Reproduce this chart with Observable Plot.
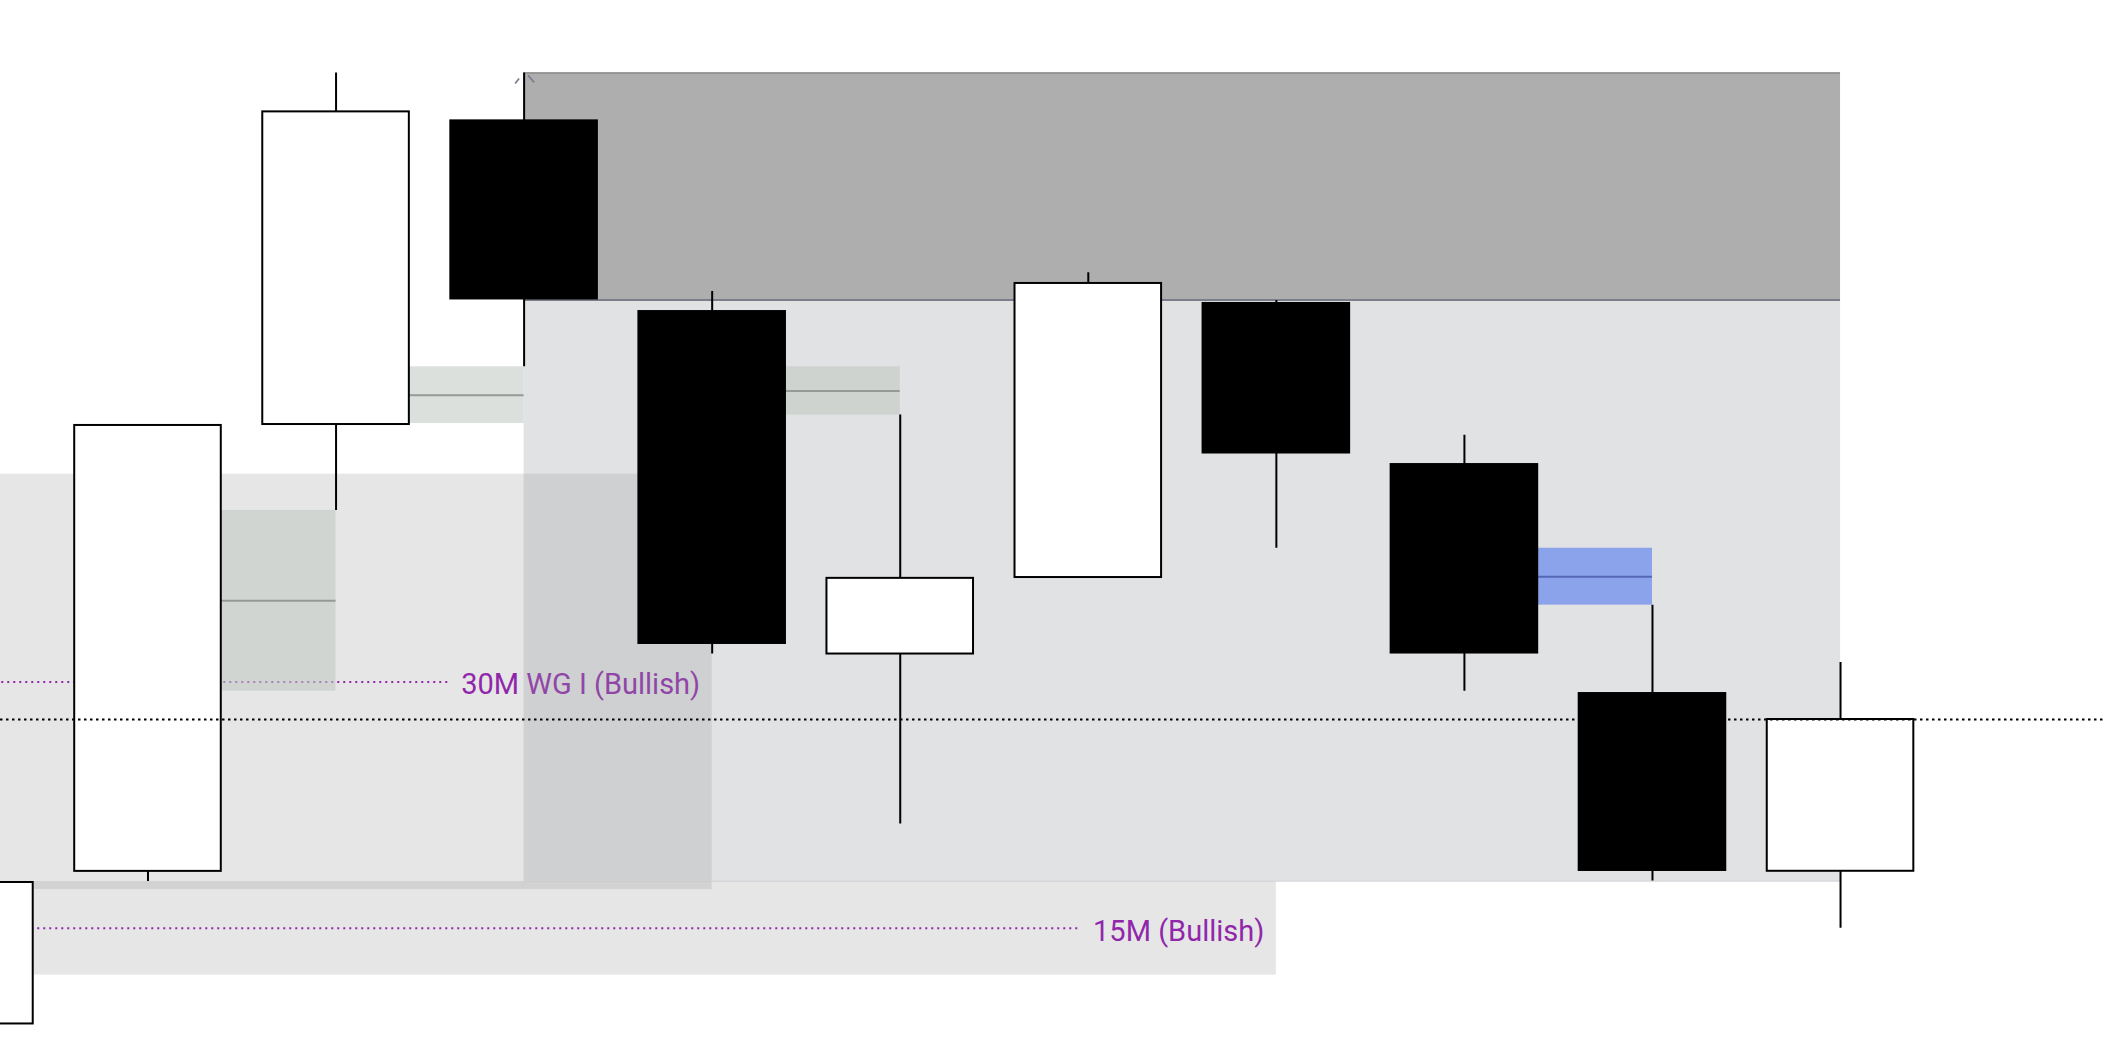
<!DOCTYPE html>
<html>
<head>
<meta charset="utf-8">
<script src="https://cdn.jsdelivr.net/npm/d3@7"></script>
<script src="https://cdn.jsdelivr.net/npm/@observablehq/plot@0.6"></script>
<style>
html, body { margin: 0; padding: 0; background: #fff; overflow: hidden; }
#chart svg { display: block; }
</style>
</head>
<body>
<div id="chart"></div>
<script>
// ---- Candles (5-minute bars) ----
const times = ["2024-05-21T13:25:00Z","2024-05-21T13:30:00Z","2024-05-21T13:35:00Z","2024-05-21T13:40:00Z",
               "2024-05-21T13:45:00Z","2024-05-21T13:50:00Z","2024-05-21T13:55:00Z","2024-05-21T14:00:00Z",
               "2024-05-21T14:05:00Z","2024-05-21T14:10:00Z","2024-05-21T14:15:00Z"];
const open  = [18001.40, 18016.10, 18059.15, 18088.50, 18070.13, 18037.04, 18044.41, 18070.91, 18055.39, 18033.33, 18016.11];
const high  = [18033.46, 18059.10, 18093.02, 18093.02, 18071.97, 18060.06, 18073.76, 18071.10, 18058.11, 18041.75, 18036.22];
const low   = [18000.20, 18015.12, 18050.87, 18064.71, 18037.04, 18020.67, 18044.41, 18047.23, 18033.46, 18015.17, 18010.62];
const close = [18015.03, 18059.06, 18089.27, 18071.15, 18037.96, 18044.33, 18072.74, 18056.31, 18037.04, 18016.09, 18030.73];

// ---- Higher-timeframe zones (bar indices, prices) ----
const zoneNames   = ["30M WG I (Bullish)", "15M (Bullish)"];
const zoneStart   = [-3, -3];
const zoneEnd     = [4, 7];
const zoneTop     = [18054.36, 18015.12];
const zoneBottom  = [18014.35, 18006.11];
const zoneLineEnd = [2.606, 5.958];

// ---- Order block and its reach ----
const obStart = 3, obEnd = 10;
const obTop = 18093.02, obBottom = 18071.15, obReach = 18015.17;

// ---- Fair value gaps ----
const fvgStart  = [1, 2, 4, 8];
const fvgEnd    = [2, 3, 5, 9];
const fvgTop    = [18050.87, 18064.71, 18064.71, 18047.23];
const fvgBottom = [18033.46, 18059.25, 18060.06, 18041.75];
const fvgState  = ["mitigated", "mitigated", "mitigated", "active"];

// ---- view (bars shown) ----
const viewFrom = 0.2157, viewTo = 11.4036;
const priceMin = 18000, priceMax = 18100;

// ---------------------------------------------------------------
const step = new Date(times[1]) - new Date(times[0]);
const t0 = +new Date(times[0]);
const T = i => new Date(t0 + i * step);
const half = 0.395 * step;

const candles = times.map((t, i) => ({t: new Date(t), o: open[i], h: high[i], l: low[i], c: close[i]}));
const bulls = candles.filter(d => d.c >= d.o);
const bears = candles.filter(d => d.c < d.o);

const zones = zoneNames.map((n, i) => ({name: n, s: zoneStart[i], e: zoneEnd[i], top: zoneTop[i], bot: zoneBottom[i],
  mid: (zoneTop[i] + zoneBottom[i]) / 2, le: zoneLineEnd[i]}));
const fvgs = fvgStart.map((s, i) => ({s, e: fvgEnd[i], top: fvgTop[i], bot: fvgBottom[i],
  mid: (fvgTop[i] + fvgBottom[i]) / 2, state: fvgState[i]}));
const ob = [{s: obStart, e: obEnd, top: obTop, bot: obBottom, reach: obReach}];

const purple = "#9027ab";
const fvgFill = {mitigated: "rgb(191,200,193)", active: "#8aa3ea"};
const fvgFillOpacity = {mitigated: 0.56, active: 1};
const fvgLine = {mitigated: "#959a96", active: "#5468b6"};

const caret = {
  draw(ctx, size) {
    const k = Math.sqrt(size / Math.PI) / 10;
    ctx.moveTo(-9 * k, 10.5 * k); ctx.lineTo(-5 * k, 5.5 * k);
    ctx.moveTo(4 * k, 2.5 * k); ctx.lineTo(10 * k, 9.5 * k);
  }
};

const chart = Plot.plot({
  width: 2104,
  height: 1038,
  margin: 0,
  x: {type: "utc", domain: [T(viewFrom), T(viewTo)], axis: null},
  y: {domain: [priceMin, priceMax], axis: null},
  marks: [
    // HTF zones
    Plot.rect(zones, {x1: d => T(d.s), x2: d => T(d.e), y1: "bot", y2: "top",
      fill: "rgb(148,148,148)", fillOpacity: 0.233}),
    Plot.ruleY(zones, {x1: d => T(d.s), x2: d => T(d.le), y: "mid", stroke: purple,
      strokeWidth: 2, strokeDasharray: "2 4"}),
    Plot.text(zones, {x: d => T(d.e), y: "mid", text: "name", textAnchor: "end", dx: -12, dy: 3,
      fill: purple, fontSize: 29, fontFamily: "Roboto"}),
    // order block reach area
    Plot.rect(ob, {x1: d => T(d.s), x2: d => T(d.e), y1: "reach", y2: "bot",
      fill: "rgb(148,151,159)", fillOpacity: 0.28}),
    Plot.ruleY(ob, {x1: d => T(d.s), x2: d => T(d.e), y: "reach", stroke: "#c6c7cb", strokeWidth: 1}),
    // order block
    Plot.rect(ob, {x1: d => T(d.s), x2: d => T(d.e), y1: "bot", y2: "top", fill: "#aeaeae"}),
    Plot.ruleY(ob, {x1: d => T(d.s), x2: d => T(d.e), y: "top", stroke: "#8a8a8a", strokeWidth: 1.5}),
    Plot.ruleY(ob, {x1: d => T(d.s), x2: d => T(d.e), y: "bot", stroke: "#7c7e8c", strokeWidth: 2}),
    // FVGs
    Plot.rect(fvgs, {x1: d => T(d.s), x2: d => T(d.e), y1: "bot", y2: "top",
      fill: d => fvgFill[d.state], fillOpacity: d => fvgFillOpacity[d.state]}),
    Plot.ruleY(fvgs, {x1: d => T(d.s), x2: d => T(d.e), y: "mid",
      stroke: d => fvgLine[d.state], strokeWidth: 2}),
    // wicks
    Plot.ruleX(candles, {x: "t", y1: "l", y2: "h", stroke: "#000", strokeWidth: 2}),
    // bodies
    Plot.rect(bears, {x1: d => new Date(+d.t - half), x2: d => new Date(+d.t + half),
      y1: "o", y2: "c", fill: "#000"}),
    Plot.rect(bulls, {x1: d => new Date(+d.t - half), x2: d => new Date(+d.t + half),
      y1: "o", y2: "c", fill: "#fff", stroke: "#000", strokeWidth: 2, insetLeft: 1, insetRight: 1}),
    // last price
    Plot.ruleY([close[close.length - 1]], {stroke: "#000", strokeWidth: 2, strokeDasharray: "2.5 3.5"}),
    // collapse caret of the order block
    Plot.dot(ob, {x: d => T(d.s), y: "top", symbol: caret, r: 10, fill: "none",
      stroke: "#7e8090", strokeWidth: 1.8})
  ]
});
document.getElementById("chart").appendChild(chart);
</script>
</body>
</html>
